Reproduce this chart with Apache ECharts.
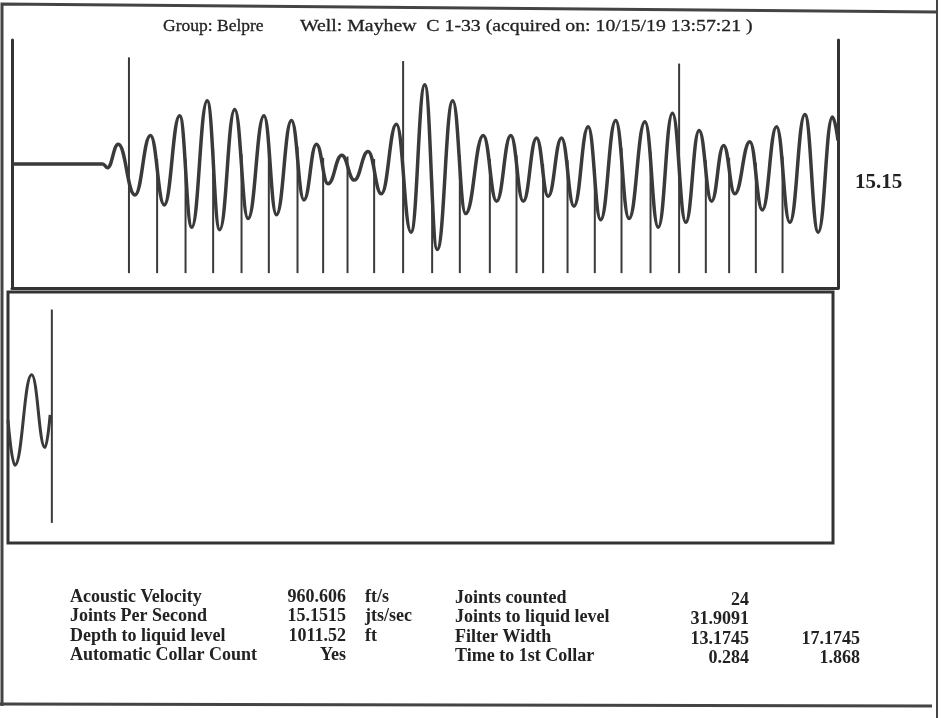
<!DOCTYPE html>
<html><head><meta charset="utf-8">
<script src="https://cdn.jsdelivr.net/npm/echarts@6/dist/echarts.min.js"></script>
<style>html,body{margin:0;padding:0;background:#fff}#c{width:942px;height:718px}</style>
</head><body><div id="c"></div>
<script>
// ---------- DATA ----------
const titleGroup = 'Group: Belpre';
const titleWell = 'Well: Mayhew  C 1-33 (acquired on: 10/15/19 13:57:21 )';
const jointsPerSecLabel = '15.15';

// Top panel: acoustic trace (time in s, normalised amplitude)
const topTime = [0.012,0.223,0.234,0.259,0.298,0.334,0.366,0.402,0.430,0.466,0.495,0.530,0.561,0.598,0.627,0.662,0.691,0.720,0.747,0.779,0.808,0.840,0.871,0.906,0.940,0.972,1.001,1.037,1.067,1.108,1.139,1.172,1.201,1.232,1.259,1.290,1.319,1.352,1.381,1.416,1.447,1.484,1.515,1.548,1.579,1.610,1.639,1.667,1.693,1.728,1.757,1.790,1.821,1.856,1.887,1.920,1.933];
const topAmp  = [0,0,-0.03,0.16,-0.25,0.23,-0.33,0.39,-0.51,0.51,-0.53,0.44,-0.44,0.39,-0.41,0.35,-0.29,0.16,-0.16,0.07,-0.13,0.10,-0.24,0.32,-0.55,0.64,-0.69,0.51,-0.40,0.23,-0.30,0.23,-0.30,0.21,-0.26,0.21,-0.34,0.30,-0.45,0.35,-0.44,0.34,-0.51,0.41,-0.47,0.27,-0.30,0.15,-0.24,0.18,-0.37,0.30,-0.47,0.40,-0.55,0.38,0.19];

// Top panel: collar markers (time, top amplitude)
const collarTime = [0.284,0.3495,0.4156,0.4798,0.5458,0.6093,0.6760,0.7356,0.7923,0.8542,0.9216,0.9891,1.0535,1.1233,1.1853,1.2472,1.3040,1.3674,1.4295,1.4970,1.5635,1.6256,1.6798,1.7419,1.8040];
const collarTop  = [0.86,0.04,0.04,0.12,0.08,0.20,0.14,0.05,0.06,0.04,0.83,-0.13,0.07,0.04,0.07,0.00,0.03,-0.04,0.13,0.10,0.81,0.03,0.05,0.01,0.06];
const collarBottom = -0.88;

// Bottom panel: liquid level trace
const lowTime = [1.766,1.782,1.821,1.852,1.864];
const lowAmp  = [-0.02,-0.38,0.34,-0.24,0.02];
const lowMarkerTime = [1.868];
const lowMarkerTop = [0.86];
const lowMarkerBottom = [-0.84];

// Results table
const leftLabels  = ['Acoustic Velocity','Joints Per Second','Depth to liquid level','Automatic Collar Count'];
const leftValues  = ['960.606','15.1515','1011.52','Yes'];
const leftUnits   = ['ft/s','jts/sec','ft',''];
const rightLabels = ['Joints counted','Joints to liquid level','Filter Width','Time to 1st Collar'];
const rightValues1 = ['24','31.9091','13.1745','0.284'];
const rightValues2 = ['','','17.1745','1.868'];

// ---------- CHART ----------
const ink = '#333';
const chart = echarts.init(document.getElementById('c'), null, {renderer:'canvas'});

const zip = (a,b) => a.map((v,i)=>[v,b[i]]);
const lineItem = (color,w) => (params, api) => {
  const p1 = api.coord([api.value(0), api.value(1)]);
  const p2 = api.coord([api.value(0), api.value(2)]);
  return {type:'line', shape:{x1:p1[0],y1:p1[1],x2:p2[0],y2:p2[1]}, style:{stroke:color, lineWidth:w}};
};

const serif = '"Liberation Serif","DejaVu Serif",serif';
const rowY = [597,616,636,655];
const graphics = [];
// outer frame
graphics.push({type:'polyline', shape:{points:[[2,706],[2,4],[938,12]]}, style:{stroke:'#444', lineWidth:3, fill:null}});
graphics.push({type:'line', shape:{x1:937,y1:0,x2:937,y2:718}, style:{stroke:'#444', lineWidth:2}});
graphics.push({type:'line', shape:{x1:0,y1:704,x2:932,y2:706}, style:{stroke:'#444', lineWidth:3}});
// titles
const titleStyle = {font:'17.5px '+serif, fill:'#222', align:'left', verticalAlign:'middle', stroke:'#222', lineWidth:0.3};
graphics.push({type:'text', x:163, y:26, style:Object.assign({text:titleGroup}, titleStyle)});
graphics.push({type:'text', x:300, y:26, scaleX:1.13, style:Object.assign({text:titleWell}, titleStyle)});
graphics.push({type:'text', x:855, y:183, style:{text:jointsPerSecLabel, font:'bold 21px '+serif, fill:'#222', align:'left', verticalAlign:'middle'}});
// table
const tf = 'bold 18px '+serif;
leftLabels.forEach((t,i)=>graphics.push({type:'text', x:70, y:rowY[i], style:{text:t, font:tf, fill:'#222', align:'left', verticalAlign:'middle'}}));
leftValues.forEach((t,i)=>graphics.push({type:'text', x:346, y:rowY[i], style:{text:t, font:tf, fill:'#222', align:'right', verticalAlign:'middle'}}));
leftUnits.forEach((t,i)=>graphics.push({type:'text', x:365, y:rowY[i], style:{text:t, font:tf, fill:'#222', align:'left', verticalAlign:'middle'}}));
rightLabels.forEach((t,i)=>graphics.push({type:'text', x:455, y:rowY[i]+1, style:{text:t, font:tf, fill:'#222', align:'left', verticalAlign:'middle'}}));
rightValues1.forEach((t,i)=>graphics.push({type:'text', x:749, y:rowY[i]+3, style:{text:t, font:tf, fill:'#222', align:'right', verticalAlign:'middle'}}));
rightValues2.forEach((t,i)=>graphics.push({type:'text', x:860, y:rowY[i]+3, style:{text:t, font:tf, fill:'#222', align:'right', verticalAlign:'middle'}}));

const axisLineStyle = {show:true, onZero:false, lineStyle:{color:ink, width:3}};
const hidden = {axisTick:{show:false}, axisLabel:{show:false}, splitLine:{show:false}};

chart.setOption({
  animation:false,
  backgroundColor:'#fff',
  grid:[
    {left:12, top:40, width:826, height:248, show:false},
    {left:8, top:292, width:825, height:251, show:true, borderColor:ink, borderWidth:3}
  ],
  xAxis:[
    Object.assign({type:'value', gridIndex:0, min:0.012, max:1.933, axisLine:axisLineStyle}, hidden),
    Object.assign({type:'value', gridIndex:1, min:1.766, max:3.685, axisLine:{show:false}}, hidden)
  ],
  yAxis:[
    Object.assign({type:'value', gridIndex:0, min:-1, max:1, position:'left', axisLine:axisLineStyle}, hidden),
    Object.assign({type:'value', gridIndex:0, min:-1, max:1, position:'right', axisLine:axisLineStyle}, hidden),
    Object.assign({type:'value', gridIndex:1, min:-1, max:1, axisLine:{show:false}}, hidden)
  ],
  series:[
    {type:'line', xAxisIndex:0, yAxisIndex:0, data:zip(topTime,topAmp), smooth:0.45, smoothMonotone:'x', symbol:'none', lineStyle:{color:'#3a3a3a', width:3.5}, z:3},
    {type:'custom', xAxisIndex:0, yAxisIndex:0, data:collarTime.map((t,i)=>[t,collarTop[i],collarBottom]), renderItem:lineItem('#3a3a3a',2), encode:{x:0,y:[1,2]}, z:2},
    {type:'line', xAxisIndex:1, yAxisIndex:2, data:zip(lowTime,lowAmp), smooth:0.45, smoothMonotone:'x', symbol:'none', lineStyle:{color:'#3a3a3a', width:3}, z:3},
    {type:'custom', xAxisIndex:1, yAxisIndex:2, data:lowMarkerTime.map((t,i)=>[t,lowMarkerTop[i],lowMarkerBottom[i]]), renderItem:lineItem('#3a3a3a',2), encode:{x:0,y:[1,2]}, z:2}
  ],
  graphic:graphics
});
</script></body></html>
